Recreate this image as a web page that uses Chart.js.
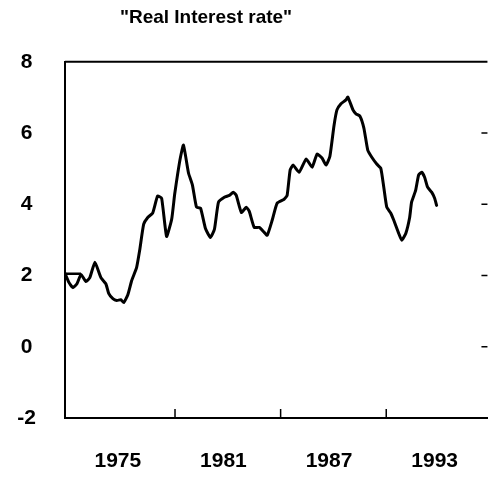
<!DOCTYPE html>
<html>
<head>
<meta charset="utf-8">
<script src="https://cdn.jsdelivr.net/npm/chart.js@4.4.1/dist/chart.umd.min.js"></script>
<style>
  html, body { margin: 0; padding: 0; background: #fff; }
</style>
</head>
<body>
<canvas id="rateChart" width="489" height="499"></canvas>
<script>
// Values: decimal years and percent
const years = [1972.00, 1972.23, 1972.45, 1972.68, 1972.91, 1973.19, 1973.41, 1973.70, 1974.04, 1974.32,
  1974.49, 1974.72, 1974.94, 1975.17, 1975.34, 1975.57, 1975.79, 1976.07, 1976.24, 1976.47,
  1976.70, 1976.98, 1977.26, 1977.49, 1977.77, 1978.06, 1978.23, 1978.40, 1978.56, 1978.73,
  1979.02, 1979.24, 1979.47, 1979.70, 1979.98, 1980.26, 1980.49, 1980.72, 1981.05, 1981.34,
  1981.56, 1981.73, 1982.02, 1982.30, 1982.47, 1982.75, 1983.04, 1983.32, 1983.49, 1983.77,
  1984.05, 1984.45, 1984.62, 1984.79, 1984.96, 1985.30, 1985.70, 1986.04, 1986.32, 1986.60,
  1986.83, 1987.05, 1987.28, 1987.45, 1987.68, 1987.96, 1988.07, 1988.36, 1988.53, 1988.75,
  1988.98, 1989.20, 1989.43, 1989.71, 1989.94, 1990.11, 1990.28, 1990.51, 1990.68, 1990.96,
  1991.13, 1991.36, 1991.58, 1991.69, 1991.92, 1992.09, 1992.26, 1992.43, 1992.60, 1992.83,
  1993.00, 1993.11];
const realRate = [2.06, 1.80, 1.66, 1.77, 2.03, 1.83, 1.94, 2.37, 1.94, 1.77,
  1.49, 1.35, 1.30, 1.32, 1.24, 1.46, 1.86, 2.23, 2.70, 3.44,
  3.63, 3.75, 4.23, 4.17, 3.10, 3.58, 4.28, 4.85, 5.32, 5.66,
  4.87, 4.54, 3.92, 3.89, 3.32, 3.07, 3.30, 4.06, 4.20, 4.25,
  4.34, 4.25, 3.77, 3.92, 3.80, 3.35, 3.35, 3.21, 3.13, 3.55,
  4.03, 4.14, 4.25, 4.96, 5.10, 4.90, 5.27, 5.04, 5.41, 5.30,
  5.10, 5.35, 6.20, 6.65, 6.82, 6.93, 7.01, 6.65, 6.54, 6.48,
  6.14, 5.52, 5.32, 5.13, 5.01, 4.48, 3.92, 3.75, 3.55, 3.18,
  2.99, 3.18, 3.63, 4.06, 4.39, 4.82, 4.90, 4.76, 4.48, 4.34,
  4.17, 3.97];

// short flat segment at the start of the series
const startYears = [1972.0, 1972.91];
const startLevel = [2.05, 2.05];

const yearLabels = [1975, 1981, 1987, 1993];
const yearMarks = [1978.25, 1984.25, 1990.25];
const rateTicks = [-2, 0, 2, 4, 6, 8];

const FONT = "'Liberation Sans', Arial, Helvetica, sans-serif";

const toPoints = (xs, ys) => xs.map((x, i) => ({ x: x, y: ys[i] }));

// top rule plus the small inward tick marks on the bottom and right
const frameMarks = {
  id: 'frameMarks',
  afterDraw(chart) {
    const { ctx, chartArea: a, scales: { x, y } } = chart;
    ctx.save();
    ctx.strokeStyle = '#000';
    ctx.lineWidth = 2;
    ctx.beginPath();
    ctx.moveTo(a.left, a.top);
    ctx.lineTo(a.right, a.top);
    ctx.stroke();

    ctx.lineWidth = 1.5;
    ctx.beginPath();
    yearMarks.forEach(v => {
      const px = x.getPixelForValue(v);
      ctx.moveTo(px, a.bottom);
      ctx.lineTo(px, a.bottom - 9);
    });
    rateTicks.slice(1, -1).forEach(v => {
      const py = y.getPixelForValue(v);
      ctx.moveTo(a.right - 6, py);
      ctx.lineTo(a.right, py);
    });
    ctx.stroke();
    ctx.restore();
  }
};

// title sits left of centre in the original
const titleShift = {
  id: 'titleShift',
  afterLayout(chart) {
    if (chart.titleBlock) {
      chart.titleBlock.left = 0;
      chart.titleBlock.right = 412;
    }
  }
};

new Chart(document.getElementById('rateChart'), {
  type: 'line',
  data: {
    datasets: [
      {
        label: 'Real interest rate',
        data: toPoints(years, realRate),
        borderColor: '#000',
        borderWidth: 3,
        pointRadius: 0,
        tension: 0.15,
        borderJoinStyle: 'round',
        borderCapStyle: 'round'
      },
      {
        label: 'start',
        data: toPoints(startYears, startLevel),
        borderColor: '#000',
        borderWidth: 2.5,
        pointRadius: 0
      }
    ]
  },
  options: {
    responsive: false,
    animation: false,
    layout: { padding: 0 },
    plugins: {
      legend: { display: false },
      tooltip: { enabled: false },
      title: {
        display: true,
        text: '"Real Interest rate"',
        color: '#000',
        font: { family: FONT, size: 19, weight: 'bold' },
        padding: { top: 6, bottom: 33 }
      }
    },
    scales: {
      x: {
        type: 'linear',
        min: 1972,
        max: 1996,
        afterBuildTicks: scale => { scale.ticks = yearLabels.map(v => ({ value: v })); },
        afterFit: scale => { scale.height = 81; },
        grid: { display: false, drawTicks: false },
        border: { display: true, color: '#000', width: 2 },
        ticks: {
          color: '#000',
          font: { family: FONT, size: 21, weight: 'bold' },
          padding: 31,
          maxRotation: 0,
          autoSkip: false,
          callback: v => String(v)
        }
      },
      y: {
        min: -2,
        max: 8,
        afterBuildTicks: scale => { scale.ticks = rateTicks.map(v => ({ value: v })); },
        afterFit: scale => { scale.width = 65; },
        grid: { display: false, drawTicks: false },
        border: { display: true, color: '#000', width: 2 },
        ticks: {
          color: '#000',
          font: { family: FONT, size: 21, weight: 'bold' },
          crossAlign: 'center',
          padding: 29,
          callback: v => String(v)
        }
      }
    }
  },
  plugins: [frameMarks, titleShift]
});
</script>
</body>
</html>
